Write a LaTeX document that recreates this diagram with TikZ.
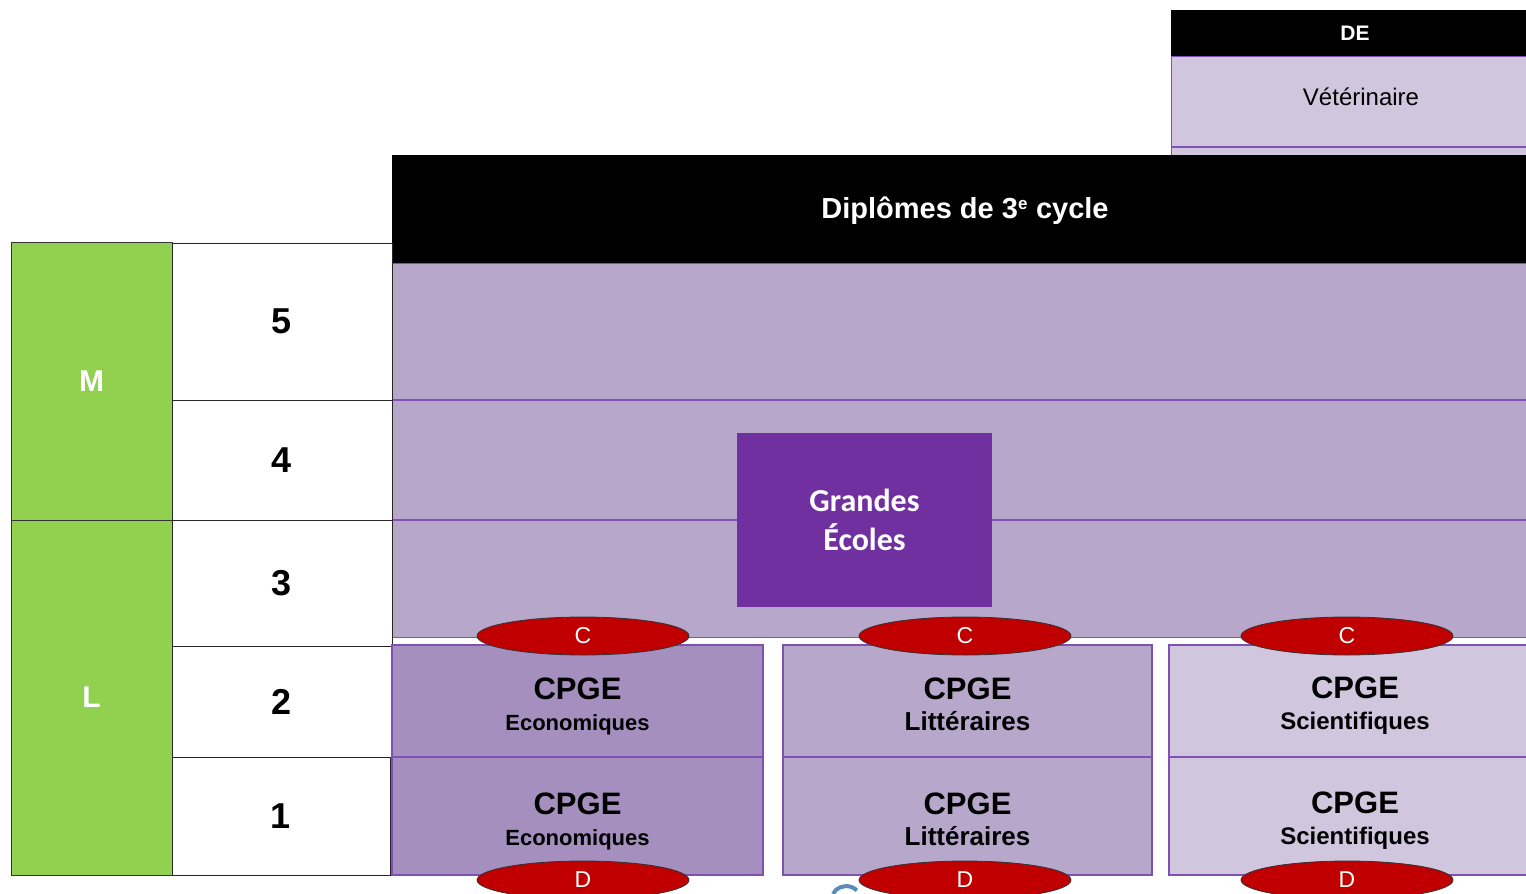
\documentclass[tikz,border=0pt]{standalone}
\usepackage{fontspec}
\setmainfont{Liberation Sans}
\newfontfamily\calib{Carlito}
\usetikzlibrary{shapes.geometric}
\definecolor{vgreen}{HTML}{92D050}
\definecolor{band}{HTML}{B7A8CB}
\definecolor{ecofill}{HTML}{A48FBE}
\definecolor{scifill}{HTML}{D0C7DF}
\definecolor{gepurple}{HTML}{7030A0}
\definecolor{pline}{HTML}{8050B4}
\definecolor{dred}{HTML}{C00000}
\definecolor{logoblue}{HTML}{5B8DB8}
\tikzset{
  cell/.style={anchor=north west, inner sep=0pt, outer sep=0pt},
  greencell/.style={cell, draw=black!80, line width=1pt, fill=vgreen, text=white, font=\bfseries\fontsize{30}{32}\selectfont},
  numcell/.style={cell, draw=black!85, line width=1pt, fill=white, font=\bfseries\fontsize{36}{38}\selectfont},
  cpge/.style={cell, draw=pline, line width=1.2pt, font=\bfseries},
  oval/.style={ellipse, draw=black!80, line width=0.8pt, fill=dred, text=white, minimum width=212pt, minimum height=38pt, inner sep=0pt, font=\fontsize{23}{24}\selectfont},
  pline/.style={draw=pline, line width=1.2pt}
}
\newcommand{\cpgetxt}[3][0pt]{\hspace*{#1}\raisebox{-7.5pt}[0pt][0pt]{\begin{tabular}{@{}c@{}}{\fontsize{31}{32}\selectfont CPGE}\rule[-4pt]{0pt}{0pt}\\\rule{0pt}{27pt}{\fontsize{#2}{#2}\selectfont #3}\end{tabular}}}
\begin{document}
\begin{tikzpicture}[x=1pt,y=-1pt]
\useasboundingbox (0,0) rectangle (1526,894);
% DE block
\node[cell, fill=scifill, draw=pline, line width=1pt, minimum width=355pt, minimum height=99pt] (vetbg) at (1171,56) {};
\node[cell, fill=black, text=white, font=\bfseries\fontsize{21}{22}\selectfont, minimum width=355pt, minimum height=46pt] (de) at (1171,10) {\hspace*{13pt}DE};
\node[font=\fontsize{24}{26}\selectfont] (vet) at (1361,97) {Vétérinaire};
\draw[pline] (1171,147) coordinate (vl) -- (1526,147) coordinate (vr);
% band
\node[cell, fill=band, draw=pline, line width=1pt, minimum width=1134pt, minimum height=374pt] (band) at (392,263) {};
\draw[pline] (392,400) coordinate (l4a) -- (1526,400) coordinate (l4b);
\draw[pline] (392,520) coordinate (l3a) -- (1526,520) coordinate (l3b);
% header
\node[cell, fill=black, minimum width=1134pt, minimum height=108pt] (hdr) at (392,155) {};
\node[text=white, font=\bfseries\fontsize{29}{30}\selectfont] (hdrtxt) at (965,211) {Diplômes de 3\textsuperscript{\fontsize{17}{17}\selectfont e} cycle};
% left columns
\node[greencell, minimum width=161pt, minimum height=278pt] (M) at (11,242) {M};
\node[greencell, minimum width=161pt, minimum height=355pt] (L) at (11,520) {L};
\node[numcell, minimum width=220pt, minimum height=157pt] (n5) at (172,243) {5};
\node[numcell, minimum width=220pt, minimum height=120pt] (n4) at (172,400) {4};
\node[numcell, minimum width=220pt, minimum height=126pt] (n3) at (172,520) {3};
\node[numcell, minimum width=220pt, minimum height=111pt] (n2) at (172,646) {2};
\node[numcell, minimum width=218pt, minimum height=118pt] (n1) at (172,757) {1};
% Grandes Ecoles
\node[cell, fill=gepurple, text=white, align=center, minimum width=255pt, minimum height=174pt, font=\calib\bfseries\fontsize{32}{39}\selectfont] (ge) at (737,433) {Grandes\\Écoles};
% CPGE boxes
\node[cpge, fill=ecofill, minimum width=371pt, minimum height=112pt] (eco2) at (392,645) {\cpgetxt{22}{Economiques}};
\node[cpge, fill=ecofill, minimum width=371pt, minimum height=118pt] (eco1) at (392,757) {\cpgetxt{22}{Economiques}};
\node[cpge, fill=band, minimum width=369pt, minimum height=112pt] (lit2) at (783,645) {\cpgetxt{26}{Littéraires}};
\node[cpge, fill=band, minimum width=369pt, minimum height=118pt] (lit1) at (783,757) {\cpgetxt{26}{Littéraires}};
\node[cpge, fill=scifill, minimum width=360pt, minimum height=112pt] (sci2) at (1169,645) {\cpgetxt[12pt]{24}{Scientifiques}};
\node[cpge, fill=scifill, minimum width=360pt, minimum height=118pt] (sci1) at (1169,757) {\cpgetxt[12pt]{24}{Scientifiques}};
% logo fragment
\draw[logoblue, line width=4pt] (833,894) arc[start angle=200, end angle=320, x radius=14pt, y radius=-12pt];
% ovals
\node[oval] (c1) at (583,636) {C};
\node[oval] (c2) at (965,636) {C};
\node[oval] (c3) at (1347,636) {C};
\node[oval] (d1) at (583,880) {D};
\node[oval] (d2) at (965,880) {D};
\node[oval] (d3) at (1347,880) {D};
\end{tikzpicture}
\end{document}
